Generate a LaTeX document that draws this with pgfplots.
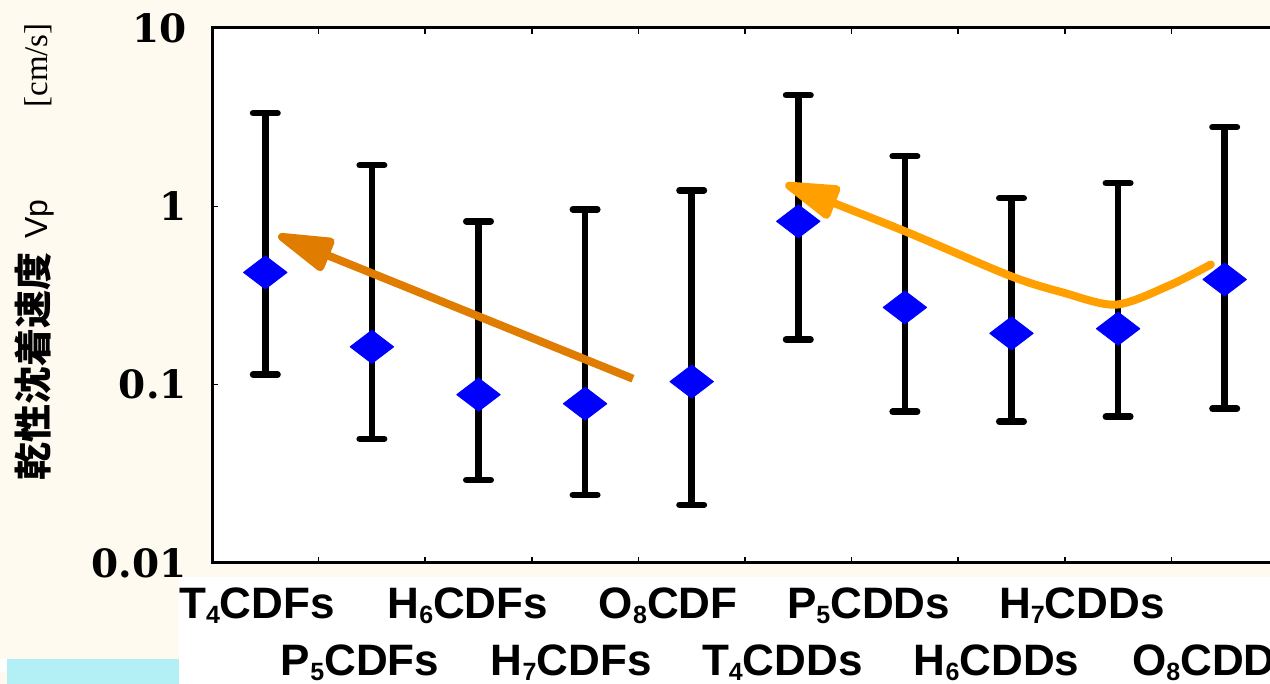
\documentclass[border=0pt]{standalone}
\usepackage{fontspec}
\usepackage{pgfplots}
\pgfplotsset{compat=1.18}
\usetikzlibrary{arrows.meta}
\newfontfamily\labfont{Liberation Sans}
\newfontfamily\numfont{DejaVu Serif}
\newfontfamily\cjk{Noto Sans CJK JP}
\newfontfamily\tnr{Liberation Serif}
\definecolor{cream}{HTML}{FFFAEF}
\definecolor{lcyan}{HTML}{B2F0F5}
\definecolor{darkor}{HTML}{E07C00}
\definecolor{lightor}{HTML}{FFA000}
\newcommand\sub[1]{\raisebox{-5pt}{\fontsize{25}{25}\selectfont #1}}
\begin{document}
\begin{tikzpicture}
\useasboundingbox (0,0) rectangle (1270pt,684pt);
\clip (0,0) rectangle (1270pt,684pt);
\fill[cream] (0,0) rectangle (1270pt,684pt);
\fill[white] (179pt,0) rectangle (1270pt,107pt);
\fill[lcyan] (7pt,0) rectangle (179pt,25pt);
\fill[white] (0pt,12pt) rectangle (7pt,25pt);
\node[rotate=90, anchor=center, inner sep=0pt] at (35pt,432pt)
  {{\cjk\bfseries\fontsize{38}{40}\selectfont 乾性沈着速度}\hspace{14pt}{\labfont\fontsize{32}{34}\selectfont Vp}\hspace{92pt}{\tnr\fontsize{33}{35}\selectfont [cm/s]}};
\begin{axis}[
  at={(212pt,121pt)}, anchor=south west,
  width=1066pt, height=535pt, scale only axis,
  xmin=-0.5, xmax=9.5,
  ymode=log, ymin=0.01, ymax=10,
  axis line style={line width=3pt, black},
  axis background/.style={fill=white},
  ytick={0.01,0.1,1,10}, yticklabels={0.01,0.1,1,10},
  yminorticks=false,
  yticklabel style={font=\numfont\bfseries\fontsize{39}{40}\selectfont, inner sep=0pt, anchor=east, xshift=-25pt},
  xtick={0.5,1.5,...,9.5}, xticklabels={},
  extra x ticks={-0.078,0.889,1.90,2.87,3.78,4.85,5.66,6.86,7.66,8.92},
  extra x tick labels={T\sub{4}CDFs, \raisebox{-57pt}{P\sub{5}CDFs}, H\sub{6}CDFs, \raisebox{-57pt}{H\sub{7}CDFs}, O\sub{8}CDF, \raisebox{-57pt}{T\sub{4}CDDs}, P\sub{5}CDDs, \raisebox{-57pt}{H\sub{6}CDDs}, H\sub{7}CDDs, \raisebox{-57pt}{O\sub{8}CDDs}},
  extra x tick style={major tick length=0pt, xticklabel style={font=\labfont\bfseries\fontsize{44}{46}\selectfont, anchor=base, inner sep=0pt, yshift=-56pt}},
  tick align=inside, major tick length=6pt,
  tick style={line width=1.5pt, black},
  clip=false,
]
% error bars
\addplot[black, line width=6.5pt, unbounded coords=jump, mark=-, mark size=12.25pt, mark options={line cap=round, solid}] coordinates {
 (0,0.114) (0,3.33) (0,nan)
 (1,0.0497) (1,1.70) (1,nan)
 (2,0.0292) (2,0.824) (2,nan)
 (3,0.0241) (3,0.962) (3,nan)
 (4,0.0212) (4,1.23) (4,nan)
 (5,0.179) (5,4.2) (5,nan)
 (6,0.0705) (6,1.91) (6,nan)
 (7,0.0620) (7,1.11) (7,nan)
 (8,0.0661) (8,1.35) (8,nan)
 (9,0.0733) (9,2.78)
};
% means
\addplot[only marks, mark=diamond*, mark size=16.5pt, mark options={fill=blue, draw=blue, line width=1pt, line join=round, xscale=1.75}] coordinates {
 (0,0.426) (1,0.163) (2,0.0879) (3,0.0782) (4,0.104)
 (5,0.824) (6,0.271) (7,0.194) (8,0.206) (9,0.389)
};
% trend arrows
\addplot[darkor, line width=8pt, -{Triangle[length=66pt, width=36pt, round]}] coordinates {
 (3.449,0.108) (0.122,0.687)
};
\addplot[lightor, line width=8pt, smooth, line cap=round, -{Triangle[length=64pt, width=36pt, round]}] coordinates {
 (8.87,0.472) (8.48,0.360) (7.98,0.281) (7.48,0.329) (6.98,0.409) (5.98,0.733) (4.88,1.33)
};
\end{axis}
\end{tikzpicture}
\end{document}
